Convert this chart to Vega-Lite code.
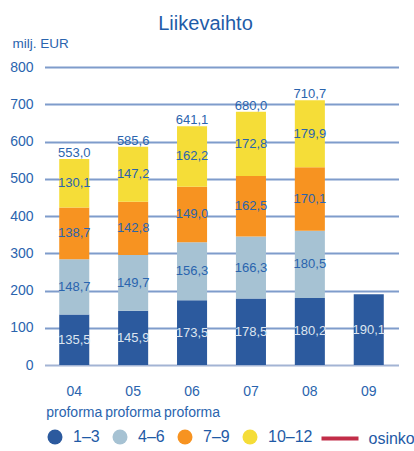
{
  "$schema": "https://vega.github.io/schema/vega-lite/v6.json",
  "width": 354,
  "height": 298,
  "autosize": {"type": "none"},
  "padding": {"left": 44.5, "top": 67, "right": 15.5, "bottom": 86},
  "background": "white",
  "config": {
    "view": {"stroke": null},
    "font": "Liberation Sans, Arial, sans-serif",
    "axisY": {
      "values": [0, 100, 200, 300, 400, 500, 600, 700, 800],
      "labelOverlap": false,
      "titleAngle": 0,
      "titleAlign": "left",
      "titleBaseline": "alphabetic",
      "titleX": -32.5,
      "titleY": -20,
      "titleFontSize": 13.5,
      "titleFontWeight": "normal",
      "titleColor": "#2a64ae",
      "domain": false,
      "ticks": false,
      "labelPadding": 11.5,
      "labelFontSize": 14,
      "labelColor": "#2a64ae",
      "grid": true,
      "gridWidth": 2,
      "gridOpacity": 1,
      "gridColor": {"condition": {"test": "datum.value === 0", "value": "#a3b4d4"}, "value": "#7f9ccb"}
    },
    "axisX": {
      "domain": false,
      "ticks": false,
      "labelAngle": 0,
      "labelPadding": 19,
      "labelBaseline": "top",
      "labelFontSize": 14,
      "labelLineHeight": 21,
      "labelColor": "#2a64ae"
    }
  },
  "title": {
    "text": "Liikevaihto",
    "frame": "group",
    "anchor": "middle",
    "offset": -14,
    "baseline": "alphabetic",
    "dx": -16,
    "fontSize": 20,
    "fontWeight": "normal",
    "color": "#1f5ca8"
  },
  "datasets": {
    "quarters": [
      {"year": "04", "q": "1–3", "order": 1, "value": 135.5},
      {"year": "04", "q": "4–6", "order": 2, "value": 148.7},
      {"year": "04", "q": "7–9", "order": 3, "value": 138.7},
      {"year": "04", "q": "10–12", "order": 4, "value": 130.1},
      {"year": "05", "q": "1–3", "order": 1, "value": 145.9},
      {"year": "05", "q": "4–6", "order": 2, "value": 149.7},
      {"year": "05", "q": "7–9", "order": 3, "value": 142.8},
      {"year": "05", "q": "10–12", "order": 4, "value": 147.2},
      {"year": "06", "q": "1–3", "order": 1, "value": 173.5},
      {"year": "06", "q": "4–6", "order": 2, "value": 156.3},
      {"year": "06", "q": "7–9", "order": 3, "value": 149.0},
      {"year": "06", "q": "10–12", "order": 4, "value": 162.2},
      {"year": "07", "q": "1–3", "order": 1, "value": 178.5},
      {"year": "07", "q": "4–6", "order": 2, "value": 166.3},
      {"year": "07", "q": "7–9", "order": 3, "value": 162.5},
      {"year": "07", "q": "10–12", "order": 4, "value": 172.8},
      {"year": "08", "q": "1–3", "order": 1, "value": 180.2},
      {"year": "08", "q": "4–6", "order": 2, "value": 180.5},
      {"year": "08", "q": "7–9", "order": 3, "value": 170.1},
      {"year": "08", "q": "10–12", "order": 4, "value": 179.9},
      {"year": "09", "q": "1–3", "order": 1, "value": 190.1}
    ],
    "totals": [
      {"year": "04", "total": 553.0},
      {"year": "05", "total": 585.6},
      {"year": "06", "total": 641.1},
      {"year": "07", "total": 680.0},
      {"year": "08", "total": 710.7}
    ]
  },
  "encoding": {
    "x": {
      "field": "year",
      "type": "ordinal",
      "scale": {"paddingInner": 0.49, "paddingOuter": 0.25},
      "axis": {
        "title": null,
        "labelExpr": "indexof(['04','05','06'], datum.value) >= 0 ? [datum.value, 'proforma'] : datum.value"
      }
    }
  },
  "layer": [
    {
      "data": {"name": "quarters"},
      "transform": [
        {"stack": "value", "groupby": ["year"], "sort": [{"field": "order", "order": "ascending"}], "as": ["y0", "y1"]},
        {"calculate": "(datum.y0 + datum.y1) / 2", "as": "mid"},
        {"calculate": "replace(format(datum.value, '.1f'), '.', ',')", "as": "lbl"}
      ],
      "layer": [
        {
          "mark": {"type": "bar"},
          "encoding": {
            "y": {
              "field": "y0",
              "type": "quantitative",
              "scale": {"domain": [0, 800], "nice": false},
              "axis": {"title": "milj. EUR"}
            },
            "y2": {"field": "y1"},
            "color": {
              "field": "q",
              "type": "nominal",
              "scale": {
                "domain": ["1–3", "4–6", "7–9", "10–12"],
                "range": ["#2c5a9e", "#a6c2d3", "#f79321", "#f5dd38"]
              },
              "legend": {
                "title": null,
                "orient": "none",
                "legendX": 2.5,
                "legendY": 362,
                "direction": "horizontal",
                "columns": 4,
                "symbolType": "circle",
                "symbolSize": 225,
                "symbolStrokeWidth": 0,
                "symbolOpacity": 1,
                "labelOffset": 10,
                "columnPadding": 12,
                "labelFontSize": 16,
                "labelColor": "#1f5aa6"
              }
            }
          }
        },
        {
          "mark": {"type": "text", "baseline": "middle", "align": "center", "fontSize": 13},
          "encoding": {
            "y": {"field": "mid", "type": "quantitative", "axis": {"title": "milj. EUR"}},
            "text": {"field": "lbl"},
            "fill": {"condition": {"test": "datum.q === '1–3'", "value": "#dde5f0"}, "value": "#2a64ae"}
          }
        }
      ]
    },
    {
      "data": {"name": "totals"},
      "transform": [
        {"calculate": "replace(format(datum.total, '.1f'), '.', ',')", "as": "lbl"}
      ],
      "mark": {"type": "text", "baseline": "alphabetic", "align": "center", "fontSize": 13, "dy": -2, "color": "#2a64ae"},
      "encoding": {
        "y": {"field": "total", "type": "quantitative", "axis": {"title": "milj. EUR"}},
        "text": {"field": "lbl"}
      }
    },
    {
      "data": {"values": []},
      "mark": {"type": "rule"},
      "encoding": {
        "stroke": {
          "field": "s",
          "type": "nominal",
          "scale": {"domain": ["osinko"], "range": ["#c22d48"]},
          "legend": {
            "title": null,
            "orient": "none",
            "legendX": 275,
            "legendY": 351,
            "direction": "horizontal",
            "symbolType": "stroke",
            "symbolSize": 1369,
            "symbolStrokeWidth": 4,
            "labelOffset": 8,
            "labelFontSize": 16,
            "labelColor": "#1f5aa6"
          }
        }
      }
    }
  ]
}
